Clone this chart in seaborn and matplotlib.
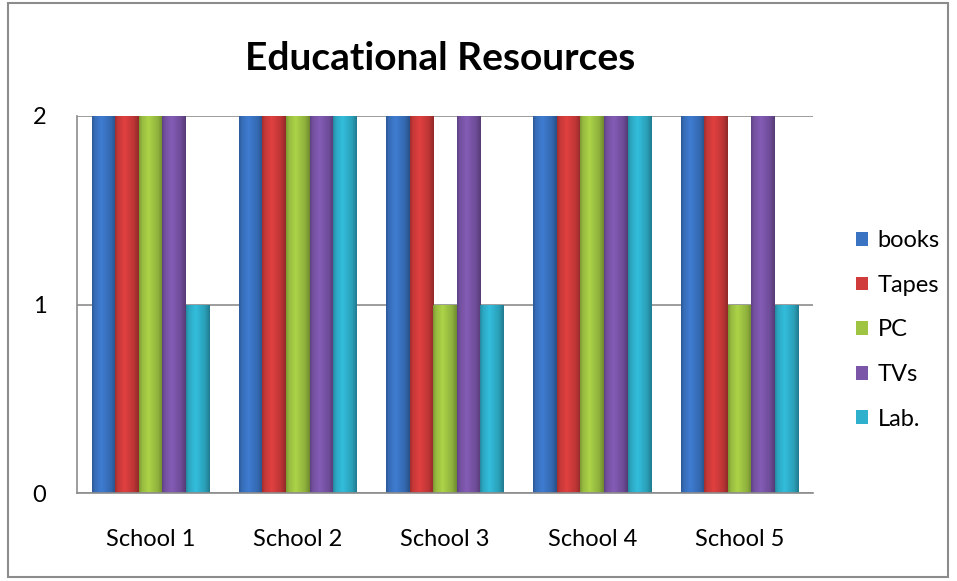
import matplotlib
matplotlib.use("Agg")
import matplotlib.pyplot as plt
import matplotlib.patches as mpatches
import numpy as np
import pandas as pd
import seaborn as sns

schools = ["School 1", "School 2", "School 3", "School 4", "School 5"]
books = [2, 2, 2, 2, 2]
tapes = [2, 2, 2, 2, 2]
pc = [2, 2, 1, 2, 1]
tvs = [2, 2, 2, 2, 2]
lab = [1, 2, 1, 2, 1]
series_names = ["books", "Tapes", "PC", "TVs", "Lab."]
colors = ["#3a73c2", "#d03b3b", "#9fc443", "#7a55a8", "#2fb0cc"]
yticks = [0, 1, 2]

rows = []
for name, vals in zip(series_names, [books, tapes, pc, tvs, lab]):
    for s, v in zip(schools, vals):
        rows.append({"School": s, "Resource": name, "Value": v})
df = pd.DataFrame(rows)

sns.set_theme(style="white")
plt.rcParams["font.family"] = ["Lato", "DejaVu Sans"]
plt.rcParams["text.color"] = "black"

fig = plt.figure(figsize=(9.57, 5.81), dpi=100)
ax = fig.add_axes([77 / 957, 1 - 493 / 581, (813 - 77) / 957, (493 - 116) / 581])

sns.barplot(data=df, x="School", y="Value", hue="Resource", order=schools,
            hue_order=series_names, palette=colors, width=0.8, saturation=1,
            ax=ax, legend=False, edgecolor="none")

# gradient shading clipped to each bar
for patch in ax.patches:
    x0 = patch.get_x()
    w = patch.get_width()
    h = patch.get_height()
    if h <= 0:
        continue
    base = np.array(patch.get_facecolor()[:3])
    t = np.linspace(0, 1, 60)
    f = np.interp(t, [0, 0.12, 0.4, 0.8, 1.0], [0.78, 0.95, 1.08, 0.9, 0.7])
    cols = np.clip(base[None, :] * f[:, None], 0, 1)
    img = cols[None, :, :]
    im = ax.imshow(img, extent=[x0, x0 + w, 0, h], aspect="auto",
                   interpolation="bilinear", zorder=patch.get_zorder() + 0.1)
    im.set_clip_path(patch)

ax.set_xlim(-0.5, 4.5)
ax.set_ylim(0, 2)
ax.set_yticks(yticks)
ax.set_yticklabels([str(v) for v in yticks])
ax.set_xlabel("")
ax.set_ylabel("")
ax.yaxis.grid(True, color="#8c8c8c", linewidth=1.2)
ax.set_axisbelow(True)
for side in ["top", "right"]:
    ax.spines[side].set_visible(False)
for side in ["left", "bottom"]:
    ax.spines[side].set_color("#8c8c8c")
    ax.spines[side].set_linewidth(1.2)
ax.tick_params(axis="y", length=0, pad=22, labelsize=17, colors="black")
ax.tick_params(axis="x", length=0, pad=26, labelsize=17, colors="black")

handles = [mpatches.Patch(facecolor=c, edgecolor="none", label=n)
           for c, n in zip(colors, series_names)]
fig.legend(handles=handles, loc="center left",
           bbox_to_anchor=(856 / 957, 1 - 330 / 581), frameon=False,
           fontsize=17, handlelength=0.52, handleheight=0.52,
           handletextpad=0.4, labelspacing=1.0, borderpad=0,
           borderaxespad=0)

fig.text(440 / 957, 1 - 70 / 581, "Educational Resources", ha="center",
         va="baseline", fontsize=28, fontweight="bold", color="black")

fig.patches.append(mpatches.Rectangle((8 / 957, 4 / 581), 940 / 957, 574 / 581,
                                      transform=fig.transFigure, fill=False,
                                      edgecolor="#8c8c8c", linewidth=1.5))

fig.savefig("out.png", dpi=100)
